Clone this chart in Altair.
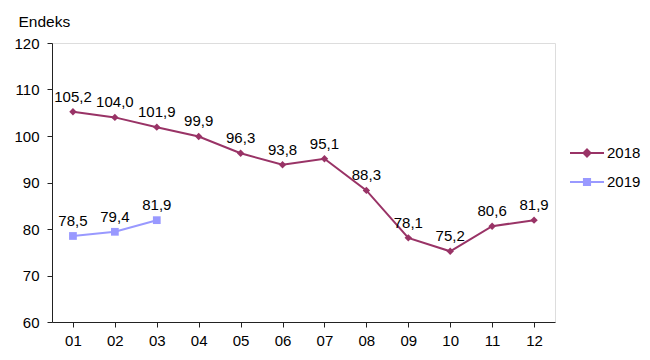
import altair as alt
import pandas as pd

months = ["01", "02", "03", "04", "05", "06", "07", "08", "09", "10", "11", "12"]
values_2018 = [105.2, 104.0, 101.9, 99.9, 96.3, 93.8, 95.1, 88.3, 78.1, 75.2, 80.6, 81.9]
months_2019 = ["01", "02", "03"]
values_2019 = [78.5, 79.4, 81.9]

C2018 = "#993366"
C2019 = "#9999FF"
FONT = "Liberation Sans"


def lab(v):
    return f"{v:.1f}".replace(".", ",")


df18 = pd.DataFrame({"ay": months, "v": values_2018, "yil": "2018",
                     "lab": [lab(v) for v in values_2018]})
df19 = pd.DataFrame({"ay": months_2019, "v": values_2019, "yil": "2019",
                     "lab": [lab(v) for v in values_2019]})

x = alt.X("ay:N", sort=months, scale=alt.Scale(domain=months, paddingInner=0, paddingOuter=0),
          axis=alt.Axis(title=None, labelAngle=0, labelFontSize=15, labelFont=FONT,
                        labelColor="#000", domainColor="#222", tickColor="#222",
                        tickSize=5, labelPadding=6, grid=False))
y = alt.Y("v:Q", scale=alt.Scale(domain=[60, 120], nice=False, zero=False),
          axis=alt.Axis(title="Endeks", titleAngle=0, titleAlign="left", titleBaseline="middle",
                        titleX=-34, titleY=-22, titleFont=FONT, titleFontSize=15.5,
                        titleFontWeight="normal", titleColor="#000",
                        values=[60, 70, 80, 90, 100, 110, 120], labelFontSize=15, labelFont=FONT,
                        labelColor="#000", domainColor="#222", tickColor="#222",
                        tickSize=5, labelPadding=8, grid=False))

diamond_leg = "M-1,0L1,0M0,-0.21L0.21,0L0,0.21L-0.21,0Z"
square_leg = "M-1,0L1,0M-0.18,-0.18L0.18,-0.18L0.18,0.18L-0.18,0.18Z"


def series(df, col, shape, size, leg_shape, ly):
    line = alt.Chart(df).mark_line(strokeWidth=2, color=col).encode(x=x, y=y)
    pts = alt.Chart(df).mark_point(filled=True, shape=shape, size=size, opacity=1).encode(
        x=x, y=y,
        color=alt.Color("yil:N", scale=alt.Scale(domain=[df["yil"][0]], range=[col]),
                        legend=alt.Legend(title=None, orient="none", legendX=517, legendY=ly,
                                          symbolType=leg_shape, symbolSize=1156,
                                          symbolStrokeColor=col, symbolStrokeWidth=2,
                                          symbolFillColor=col, symbolOpacity=1,
                                          labelFontSize=15, labelFont=FONT, labelColor="#000",
                                          labelOffset=2)))
    txt = alt.Chart(df).mark_text(dy=-15, fontSize=15, font=FONT, color="#000").encode(
        x=x, y=y, text="lab:N")
    return alt.layer(line, pts, txt)


chart = alt.layer(
    series(df18, C2018, "diamond", 55, diamond_leg, 92),
    series(df19, C2019, "square", 60, square_leg, 121),
).resolve_scale(color="independent").resolve_legend(color="independent").properties(
    width=503, height=279,
    autosize=alt.AutoSizeParams(type="none"),
    padding={"left": 44, "top": 35, "right": 87, "bottom": 30},
).configure_view(stroke=None).configure(background="white")

chart.save("out.html", embed_options={"renderer": "svg", "actions": False})
